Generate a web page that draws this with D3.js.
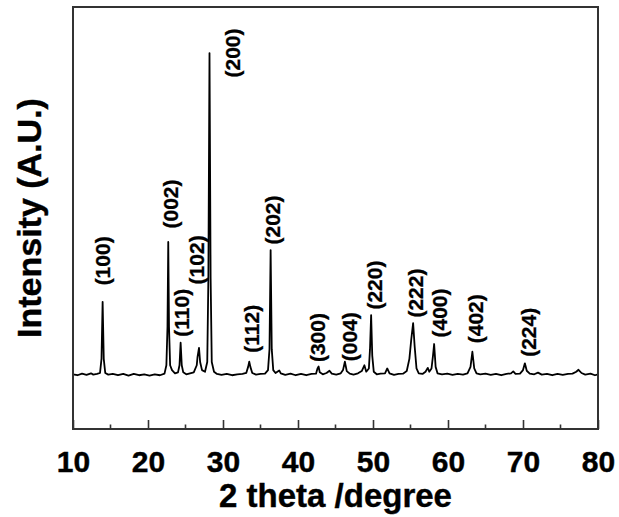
<!DOCTYPE html>
<html>
<head>
<meta charset="utf-8">
<script src="https://cdn.jsdelivr.net/npm/d3@7"></script>
<style>
  html, body { margin: 0; padding: 0; background: #fff; }
  text { font-family: 'Liberation Sans', Arial, sans-serif; font-weight: bold; }
</style>
</head>
<body>
<div id="chart"></div>
<script>
// ========= Data ========= //
// XRD pattern: [2 theta, intensity (200 peak = 100)]
const pattern = [
  [10.0, 0.2], [10.6, -0.1], [11.2, 0.4], [11.8, 0.0], [12.4, 0.5], [12.7, 0.1], [13.2, 0.3],
  [13.6, 0.6], [13.8, 5], [13.95, 22.7], [14.1, 5], [14.3, 0.6], [14.7, 0.1], [15.3, 0.3],
  [16.0, -0.1], [16.7, 0.3], [17.4, -0.2], [18.1, 0.3], [18.8, -0.1], [19.5, 0.2], [20.2, -0.2],
  [20.9, 0.2], [21.6, -0.1], [22.2, 0.4], [22.45, 3], [22.6, 15], [22.7, 41.3], [22.8, 15],
  [22.95, 3], [23.2, 1.5], [23.6, 0.5], [24.0, 0.8], [24.2, 3], [24.35, 10.0], [24.5, 3],
  [24.7, 0.8], [25.1, 0.2], [25.6, 0.5], [26.1, 0.8], [26.5, 3], [26.6, 5.5], [26.8, 8.4],
  [26.95, 4], [27.2, 1.5], [27.6, 1.0], [27.9, 4], [28.05, 30], [28.2, 100], [28.35, 30],
  [28.5, 4], [28.8, 1.0], [29.2, 0.3], [29.8, 0.0], [30.5, 0.3], [31.2, -0.1], [31.9, 0.2],
  [32.6, 0.3], [33.1, 0.6], [33.35, 2.5], [33.5, 4.1], [33.65, 2.5], [33.9, 0.6], [34.4, 0.1],
  [35.0, 0.3], [35.6, 0.4], [36.0, 1.5], [36.2, 8], [36.35, 38.8], [36.5, 8], [36.7, 1.5],
  [37.0, 0.6], [37.5, 1.4], [37.7, 0.5], [38.3, 0.0], [39.0, 0.4], [39.7, -0.1], [40.4, 0.3],
  [41.1, -0.1], [41.8, 0.3], [42.4, 0.4], [42.6, 2.0], [42.75, 2.6], [42.9, 0.8], [43.3, 0.2],
  [43.8, 0.6], [44.2, 1.3], [44.5, 0.4], [45.1, 0.1], [45.7, 0.5], [46.0, 1.5], [46.25, 4.1],
  [46.5, 1.2], [46.9, 0.4], [47.4, 0.1], [48.0, 0.5], [48.5, 1.2], [48.85, 3.0], [49.1, 1.0],
  [49.45, 2], [49.6, 8], [49.75, 18.6], [49.9, 6], [50.1, 1], [50.5, 0.2], [51.0, 0.4],
  [51.6, 0.5], [51.9, 2.0], [52.2, 0.5], [52.8, 0.0], [53.4, 0.3], [54.0, 0.4], [54.5, 1.2],
  [54.85, 5], [55.1, 11], [55.35, 16.1], [55.55, 9], [55.8, 2], [56.1, 0.5], [56.6, 0.3],
  [57.0, 1.0], [57.3, 2.2], [57.5, 1.0], [57.8, 2], [58.0, 6], [58.15, 9.6], [58.35, 2.5],
  [58.6, 0.5], [59.2, 0.2], [59.9, 0.4], [60.6, 0.0], [61.3, 0.3], [62.0, 0.1], [62.6, 0.5],
  [63.0, 2.5], [63.25, 7.2], [63.5, 2], [63.8, 0.5], [64.3, 0.2], [65.0, 0.4], [65.7, 0.0],
  [66.4, 0.3], [67.1, -0.1], [67.8, 0.3], [68.4, 0.5], [68.7, 1.1], [69.0, 0.3], [69.6, 0.4],
  [70.0, 1.5], [70.25, 3.6], [70.5, 1.3], [70.9, 0.4], [71.5, 0.2], [72.0, 0.7], [72.5, 0.1],
  [73.2, 0.3], [73.9, -0.1], [74.6, 0.3], [75.3, 0.0], [76.0, 0.3], [76.6, 0.4], [77.1, 1.0],
  [77.4, 1.6], [77.8, 0.6], [78.3, 0.1], [79.0, 0.4], [79.6, -0.1], [80.0, 0.2]
];

// indexed reflections
const hkl = ['(100)', '(002)', '(110)', '(102)', '(200)', '(112)', '(202)',
             '(300)', '(004)', '(220)', '(222)', '(400)', '(402)', '(224)'];
const peakPos = [13.95, 22.7, 24.35, 26.8, 28.2, 33.5, 36.35,
                 42.75, 46.25, 49.75, 55.35, 58.15, 63.25, 70.25];
const peakHeight = [22.7, 41.3, 10.0, 8.4, 100, 4.1, 38.8,
                    2.6, 4.1, 18.6, 16.1, 9.6, 7.2, 3.6];

const majorTicks = [10, 20, 30, 40, 50, 60, 70, 80];
const minorTicks = [15, 25, 35, 45, 55, 65, 75];

const xTitle = '2 theta /degree';
const yTitle = 'Intensity (A.U.)';

// ========= Layout ========= //
const width = 619;
const height = 517;
const margin = { top: 7, right: 21, bottom: 88, left: 73 };
const innerW = width - margin.left - margin.right;
const innerH = height - margin.top - margin.bottom;
const font = "'Liberation Sans', Arial, sans-serif";

// label placement relative to the peak top (px): [dx, dy of label centre]
const labelNudge = [[0, -41], [2, -38], [1, -30], [-3, -88], [23, 0], [2, -33], [2, -30],
                    [-1, -29], [5, -25], [3, -30], [2, -30], [5, -31], [3, -33], [4, -31]];

// ========= Scales ========= //
const x = d3.scaleLinear().domain([10, 80]).range([0, innerW]);
const y = d3.scaleLinear().domain([-16.8, 114.3]).range([innerH, 0]);

const svg = d3.select('#chart').append('svg')
  .attr('width', width)
  .attr('height', height);

const g = svg.append('g')
  .attr('transform', `translate(${margin.left},${margin.top})`);

// ========= Pattern ========= //
const line = d3.line()
  .x((d) => x(d[0]))
  .y((d) => y(d[1]));

g.append('path')
  .datum(pattern)
  .attr('fill', 'none')
  .attr('stroke', '#000')
  .attr('stroke-width', 1.8)
  .attr('stroke-linejoin', 'round')
  .attr('d', line);

// ========= Frame and ticks ========= //
g.append('rect')
  .attr('width', innerW)
  .attr('height', innerH)
  .attr('fill', 'none')
  .attr('stroke', '#333')
  .attr('stroke-width', 2);

const xAxis = d3.axisBottom(x)
  .tickValues(majorTicks)
  .tickSize(-9)
  .tickPadding(22)
  .tickFormat(d3.format('d'));

const axisG = g.append('g')
  .attr('transform', `translate(0,${innerH})`)
  .call(xAxis);
axisG.select('.domain').remove();
axisG.selectAll('.tick line').attr('stroke', '#333').attr('stroke-width', 1.6);
axisG.selectAll('.tick text')
  .attr('fill', '#000')
  .attr('font-size', 30)
  .attr('font-family', font)
  .attr('font-weight', 'bold')
  .attr('stroke', '#000')
  .attr('stroke-width', 0.4);

g.append('g')
  .attr('transform', `translate(0,${innerH})`)
  .selectAll('line')
  .data(minorTicks)
  .join('line')
  .attr('x1', (d) => x(d))
  .attr('x2', (d) => x(d))
  .attr('y1', 0)
  .attr('y2', -4.5)
  .attr('stroke', '#333')
  .attr('stroke-width', 1.6);

// ========= Peak labels ========= //
g.append('g')
  .selectAll('text')
  .data(hkl)
  .join('text')
  .attr('transform', (d, i) => {
    const cx = x(peakPos[i]) + labelNudge[i][0];
    const cy = y(peakHeight[i]) + labelNudge[i][1];
    return `translate(${cx},${cy}) rotate(-90)`;
  })
  .attr('text-anchor', 'middle')
  .attr('dominant-baseline', 'central')
  .attr('font-size', 21)
  .attr('fill', '#000')
  .attr('stroke', '#000')
  .attr('stroke-width', 0.3)
  .text((d) => d);

// ========= Axis titles ========= //
svg.append('text')
  .attr('x', margin.left + innerW / 2)
  .attr('y', 507)
  .attr('text-anchor', 'middle')
  .attr('font-size', 33)
  .attr('fill', '#000')
  .attr('stroke', '#000')
  .attr('stroke-width', 0.4)
  .text(xTitle);

svg.append('text')
  .attr('transform', `translate(41,${margin.top + innerH / 2}) rotate(-90)`)
  .attr('text-anchor', 'middle')
  .attr('font-size', 34)
  .attr('fill', '#000')
  .attr('stroke', '#000')
  .attr('stroke-width', 0.4)
  .text(yTitle);
</script>
</body>
</html>
